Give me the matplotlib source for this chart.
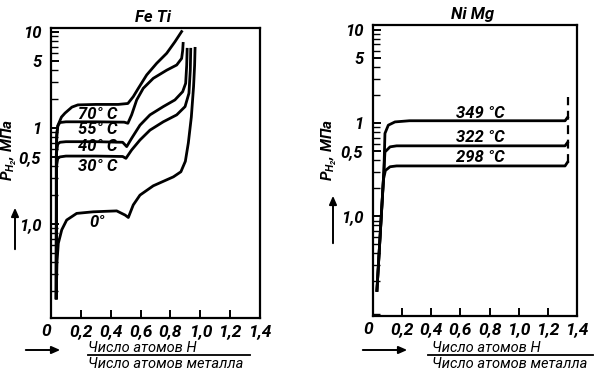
import matplotlib
matplotlib.use("Agg")
import matplotlib.pyplot as plt
from matplotlib.lines import Line2D
from matplotlib.patches import FancyArrowPatch
from matplotlib.ticker import FixedLocator, LogLocator, NullFormatter

# fonts: narrow italic, like the scanned book
plt.rcParams['font.family'] = ['Roboto', 'DejaVu Sans']
plt.rcParams['font.style'] = 'italic'
plt.rcParams['mathtext.fontset'] = 'custom'
plt.rcParams['mathtext.rm'] = 'Roboto:italic:bold'
plt.rcParams['mathtext.it'] = 'Roboto:italic:bold'

# ---- data ----
# Fe Ti isotherms (x = H/metal, p in MPa)
feti_labels = ["70° C", "55° C", "40° C", "30° C", "0°"]
feti_x_70 = [0.035, 0.035, 0.04, 0.047, 0.07, 0.094, 0.14, 0.18, 0.3, 0.45, 0.515,
             0.551, 0.585, 0.641, 0.708, 0.775, 0.83, 0.875]
feti_p_70 = [0.017, 0.5, 0.9, 1.07, 1.3, 1.43, 1.65, 1.74, 1.76, 1.76, 1.8,
             2.12, 2.59, 3.57, 4.72, 6.0, 7.9, 10.1]
feti_x_55 = [0.035, 0.037, 0.045, 0.06, 0.1, 0.3, 0.49, 0.515, 0.54, 0.574,
             0.618, 0.685, 0.775, 0.842, 0.875, 0.882, 0.885]
feti_p_55 = [0.017, 0.8, 1.05, 1.14, 1.16, 1.16, 1.15, 1.12, 1.37, 1.96,
             2.59, 3.29, 4.0, 4.53, 5.3, 6.4, 7.6]
feti_x_40 = [0.035, 0.037, 0.045, 0.06, 0.1, 0.3, 0.48, 0.507, 0.54, 0.596,
             0.663, 0.752, 0.83, 0.882, 0.902, 0.909, 0.912]
feti_p_40 = [0.017, 0.55, 0.68, 0.71, 0.72, 0.72, 0.71, 0.64, 0.78, 1.07,
             1.37, 1.67, 1.96, 2.39, 2.92, 4.5, 6.6]
feti_x_30 = [0.035, 0.037, 0.045, 0.06, 0.1, 0.3, 0.48, 0.502, 0.54, 0.596,
             0.663, 0.752, 0.842, 0.898, 0.924, 0.933, 0.936]
feti_p_30 = [0.017, 0.4, 0.48, 0.5, 0.51, 0.51, 0.505, 0.483, 0.59, 0.75,
             0.95, 1.16, 1.37, 1.67, 2.3, 4.0, 6.6]
feti_x_0 = [0.035, 0.04, 0.049, 0.072, 0.105, 0.172, 0.283, 0.44, 0.496, 0.518,
            0.551, 0.596, 0.685, 0.82, 0.87, 0.9, 0.92, 0.94, 0.955, 0.962, 0.965]
feti_p_0 = [0.017, 0.04, 0.063, 0.087, 0.11, 0.129, 0.134, 0.137, 0.124, 0.117,
            0.158, 0.2, 0.25, 0.31, 0.35, 0.45, 0.7, 1.3, 2.7, 4.5, 6.75]

# Ni Mg isotherms
nimg_labels = ["349 °C", "322 °C", "298 °C"]
nimg_x_349 = [0.027, 0.075, 0.082, 0.105, 0.151, 0.25, 0.8, 1.318, 1.335]
nimg_p_349 = [0.016, 0.31, 0.775, 0.95, 1.03, 1.06, 1.06, 1.06, 1.15]
nimg_x_322 = [0.027, 0.075, 0.082, 0.117, 0.162, 0.25, 0.8, 1.318, 1.335]
nimg_p_322 = [0.016, 0.31, 0.49, 0.556, 0.57, 0.57, 0.57, 0.57, 0.62]
nimg_x_298 = [0.027, 0.072, 0.085, 0.117, 0.162, 0.25, 0.8, 1.318, 1.335]
nimg_p_298 = [0.016, 0.25, 0.31, 0.34, 0.347, 0.347, 0.347, 0.347, 0.38]
nimg_dash_x = [1.335, 1.335]
nimg_dash_p = [0.37, 1.92]

x_ticks = [0, 0.2, 0.4, 0.6, 0.8, 1.0, 1.2, 1.4]
x_ticklabels = ["0", "0,2", "0,4", "0,6", "0,8", "1,0", "1,2", "1,4"]
y_ticks = [0.1, 0.5, 1, 5, 10]
y_ticklabels = ["1,0", "0,5", "1", "5", "10"]

# label anchors (data coords)
feti_label_pos = [(0.315, 1.37), (0.315, 0.976), (0.315, 0.634), (0.31, 0.393), (0.31, 0.1026)]
nimg_label_pos = [(0.734, 1.28), (0.734, 0.707), (0.734, 0.43)]

fig = plt.figure(figsize=(6.0, 3.79), dpi=100)
fig.patch.set_facecolor("white")

LW = 2.0
FS = 12


def px(x, y):
    """pixel position -> figure fraction"""
    return x / 600.0, 1 - y / 379.0


def setup_axes(ax, ylim):
    ax.set_yscale("log")
    ax.set_xlim(0, 1.4)
    ax.set_ylim(*ylim)
    for s in ax.spines.values():
        s.set_linewidth(1.6)
    ax.xaxis.set_major_locator(FixedLocator(x_ticks))
    ax.set_xticklabels(x_ticklabels, fontsize=12.5, fontweight="bold")
    ax.yaxis.set_major_locator(FixedLocator(y_ticks))
    ax.set_yticklabels(y_ticklabels, fontsize=12, fontweight="bold")
    ax.yaxis.set_minor_locator(LogLocator(base=10, subs=range(2, 10)))
    ax.yaxis.set_minor_formatter(NullFormatter())
    ax.tick_params(axis="both", which="major", direction="in", length=6, width=1.4,
                   top=False, right=False)
    ax.tick_params(axis="x", which="major", pad=4)
    ax.tick_params(axis="y", which="major", pad=7)
    ax.tick_params(axis="y", which="minor", direction="in", length=5, width=1.0,
                   right=False)
    ax.get_xticklabels()[0].set_horizontalalignment("right")


# ---- Fe Ti ----
ax1 = fig.add_axes([51 / 600, 61 / 379, 209 / 600, 290 / 379])
setup_axes(ax1, (0.0105, 11))
ax1.plot(feti_x_70, feti_p_70, color="black", lw=LW)
ax1.plot(feti_x_55, feti_p_55, color="black", lw=LW)
ax1.plot(feti_x_40, feti_p_40, color="black", lw=LW)
ax1.plot(feti_x_30, feti_p_30, color="black", lw=LW)
ax1.plot(feti_x_0, feti_p_0, color="black", lw=LW)
for lab, (lx, ly) in zip(feti_labels, feti_label_pos):
    ax1.text(lx, ly, lab, fontsize=FS, fontweight="bold", ha="center", va="center")
fig.text(*px(153, 17), "Fe Ti", fontsize=FS, fontweight="bold", ha="center", va="center")

# ---- Ni Mg ----
ax2 = fig.add_axes([373 / 600, 63 / 379, 204 / 600, 291 / 379])
setup_axes(ax2, (0.0085, 11.3))
ax2.plot(nimg_x_349, nimg_p_349, color="black", lw=LW)
ax2.plot(nimg_x_322, nimg_p_322, color="black", lw=LW)
ax2.plot(nimg_x_298, nimg_p_298, color="black", lw=LW)
ax2.plot(nimg_dash_x, nimg_dash_p, color="black", lw=1.6, ls=(0, (4, 2.5)))
for lab, (lx, ly) in zip(nimg_labels, nimg_label_pos):
    ax2.text(lx, ly, lab, fontsize=FS, fontweight="bold", ha="center", va="center")
fig.text(*px(473, 15), "Ni Mg", fontsize=FS, fontweight="bold", ha="center", va="center")

# ---- axis titles: y label + arrow, x label as fraction + arrow ----
for ylab_x, ylab_y, arr_x, arr_y0, arr_y1 in [(9, 150, 15, 252, 205), (329, 150, 333, 246, 193)]:
    fig.text(*px(ylab_x, ylab_y), r"$P_{H_2}$, МПа", fontsize=11, fontweight="bold",
             rotation=90, ha="center", va="center")
    fig.add_artist(FancyArrowPatch(
        px(arr_x, arr_y0), px(arr_x, arr_y1), transform=fig.transFigure,
        arrowstyle="-|>,head_length=5,head_width=2.2", color="black", lw=1.4))

for a0, a1, num_x, line_x0, line_x1 in [(23, 63, 88, 88, 250), (360, 410, 432, 428, 593)]:
    fig.add_artist(FancyArrowPatch(
        px(a0, 350), px(a1, 350), transform=fig.transFigure,
        arrowstyle="-|>,head_length=5,head_width=2.2", color="black", lw=1.4))
    fig.text(*px(num_x, 348), "Число атомов H", fontsize=10.5, ha="left", va="center")
    fig.add_artist(Line2D([line_x0 / 600, line_x1 / 600], [1 - 355 / 379] * 2,
                          transform=fig.transFigure, color="black", lw=1.3))
    fig.text(*px(num_x, 364), "Число атомов металла", fontsize=10.5, ha="left", va="center")

fig.savefig("out.png", dpi=100)
